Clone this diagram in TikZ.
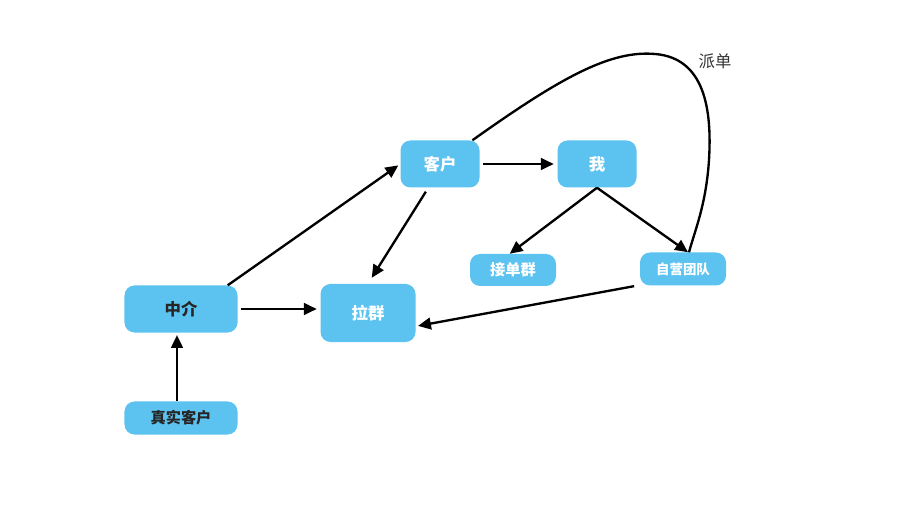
\documentclass[tikz,border=0pt]{standalone}
\usepackage{fontspec}
\newfontfamily\cjk{Noto Sans CJK SC}
\usetikzlibrary{arrows.meta}
\begin{document}
\begin{tikzpicture}[x=0.03cm, y=-0.03cm,
    every node/.style={inner sep=0pt},
    box/.style={fill=boxBlue, rounded corners=0.3cm, text=white,
      font=\cjk\bfseries\fontsize{14}{16}\selectfont},
    darktext/.style={text=black!85},
    link/.style={line width=2pt, -{Triangle[length=11pt, width=10pt]}}]
    % colours
    \definecolor{boxBlue}{RGB}{92,195,240}

    % canvas: 912 x 513 px, one unit per px
    \useasboundingbox[fill=white] (0,0) rectangle (912,513);

    % boxes
    \node[box, minimum width=2.37cm, minimum height=1.41cm] (kehu) at (440,164) {客户};
    \node[box, minimum width=2.37cm, minimum height=1.41cm] (wo)   at (597,164) {我};
    \node[box, minimum width=2.58cm, minimum height=0.96cm,
          font=\cjk\bfseries\fontsize{13}{15}\selectfont] (jiedan) at (513,270) {接单群};
    \node[box, minimum width=2.58cm, minimum height=0.99cm,
          font=\cjk\bfseries\fontsize{11.5}{13}\selectfont] (ziying) at (683,269) {自营团队};
    \node[box, darktext, minimum width=3.39cm, minimum height=1.41cm] (zhongjie) at (181,309) {中介};
    \node[box, minimum width=2.85cm, minimum height=1.74cm] (laqun) at (368,313) {拉群};
    \node[box, darktext, minimum width=3.39cm, minimum height=0.99cm,
          font=\cjk\bfseries\fontsize{13}{15}\selectfont] (zhenshi) at (181,418) {真实客户};

    % edge label
    \node[font=\cjk\fontsize{14}{16}\selectfont, text=black!80] (paidan) at (715,61) {派单};

    % arrows
    \draw[link, shorten <=3pt, shorten >=3pt] (kehu) -- (wo);
    \draw[link, shorten >=2pt] ([xshift=-0.3cm]zhongjie.north east) -- (kehu.west);
    \draw[link, shorten <=4pt, shorten >=6pt] ([xshift=-0.35cm]kehu.south) -- (laqun.north);
    \draw[link, shorten <=3pt, shorten >=3pt] (zhongjie) -- (laqun.west |- zhongjie);
    \draw[link, shorten >=2pt] ([xshift=-0.12cm]zhenshi.north) -- ([xshift=-0.12cm]zhongjie.south);
    \draw[link] (wo.south) -- ([xshift=-0.1cm]jiedan.north);
    \draw[link] (wo.south) -- ([xshift=0.15cm]ziying.north);
    \draw[link, shorten <=2pt, shorten >=2pt] ([xshift=-0.1cm]ziying.south west) -- ([yshift=-0.4cm]laqun.east);

    % dispatch loop
    \draw[line width=2pt] ([xshift=-0.22cm]kehu.north east)
        .. controls (560,78) and (610,50) .. (655,54)
        .. controls (705,58) and (712,110) .. (709,160)
        .. controls (706,205) and (695,230) .. ([xshift=0.18cm]ziying.north);
  \end{tikzpicture}
\end{document}
